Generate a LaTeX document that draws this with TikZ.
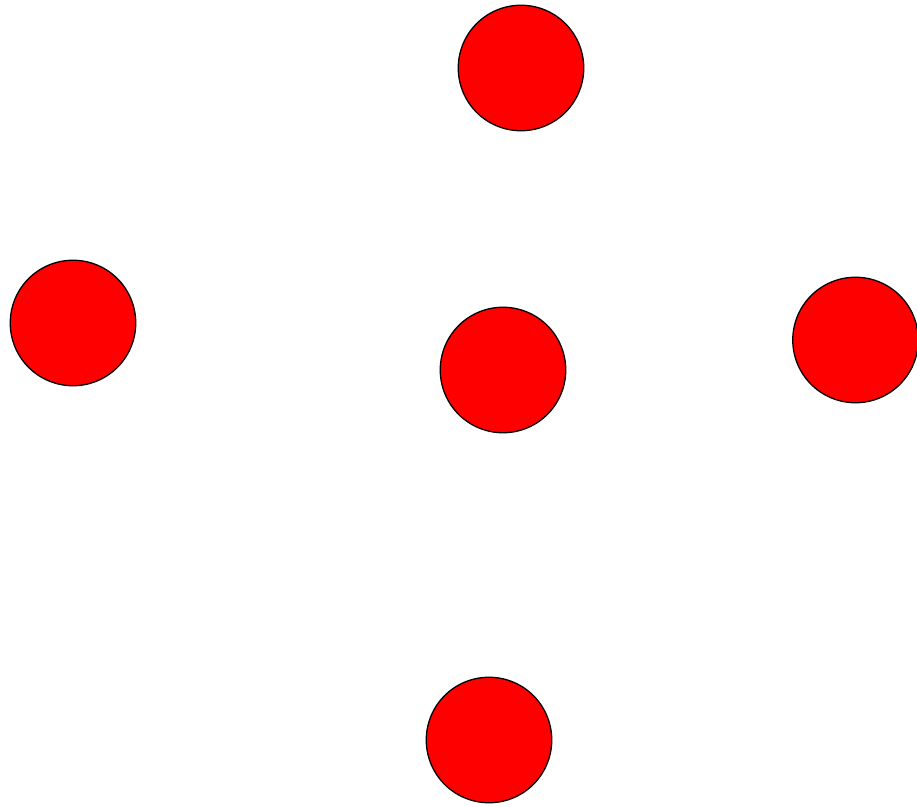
\documentclass[tikz,border=0pt]{standalone}
\begin{document}
\begin{tikzpicture}[x=1pt,y=1pt,
  dot/.style={circle,draw=black,line width=1.3pt,fill=red,minimum size=125.5pt,inner sep=0pt,outer sep=0pt}]
\useasboundingbox (0,0) rectangle (917,806);
\node[dot] (top) at (521,738) {};
\node[dot] (left) at (73,483) {};
\node[dot] (mid) at (503,436) {};
\node[dot] (right) at (855.5,466) {};
\node[dot] (bot) at (489,66) {};
\end{tikzpicture}
\end{document}
